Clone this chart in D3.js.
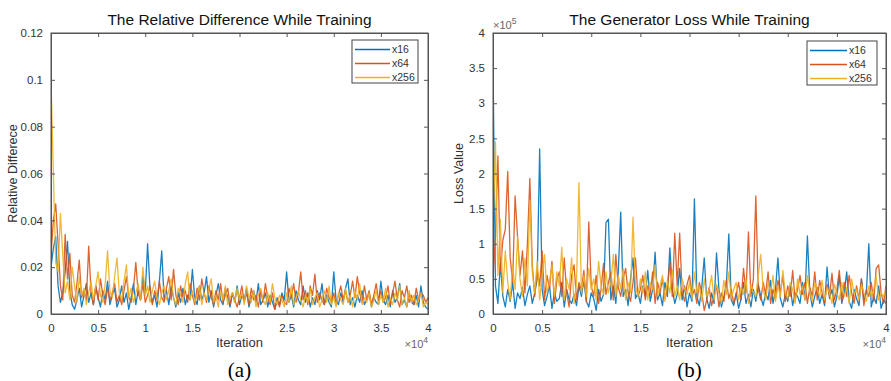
<!DOCTYPE html>
<html><head><meta charset="utf-8">
<script src="https://cdn.jsdelivr.net/npm/d3@7"></script>
<style>
body{margin:0;background:#fff;}
svg{display:block;font-family:"Liberation Sans",Arial,sans-serif;}
</style></head>
<body><svg id="c" width="891" height="381"></svg>
<script>
// ---- data ----
const iterations = d3.range(0, 40001, 250);
const seriesNames = ["x16", "x64", "x256"];
const seriesColors = ["#0072BD", "#D95319", "#EDB120"];
const xTicks = [0, 5000, 10000, 15000, 20000, 25000, 30000, 35000, 40000];
const relTicks = [0, 0.02, 0.04, 0.06, 0.08, 0.1, 0.12];
const lossTicks = [0, 0.5, 1, 1.5, 2, 2.5, 3, 3.5, 4]; // x10^5

const rel_x16 = [
.020,.028,.033,.012,.005,.009,.018,.031,.010,.004,.002,.006,.011,.003,.008,.013,.005,.009,.004,.012,
.007,.003,.010,.006,.014,.004,.008,.011,.003,.006,.012,.005,.009,.002,.007,.013,.004,.010,.006,.016,
.009,.030,.011,.005,.008,.003,.014,.027,.006,.010,.004,.012,.007,.003,.009,.005,.011,.004,.008,.006,
.019,.007,.004,.012,.006,.009,.016,.005,.010,.003,.008,.013,.006,.004,.011,.007,.003,.009,.005,.012,
.004,.008,.006,.011,.003,.007,.010,.005,.013,.004,.006,.009,.003,.008,.005,.002,.007,.004,.009,.006,
.018,.005,.008,.003,.010,.006,.004,.012,.005,.009,.003,.007,.004,.010,.006,.013,.004,.008,.005,.003,
.018,.006,.004,.009,.005,.011,.015,.004,.007,.003,.008,.005,.010,.004,.006,.009,.003,.007,.005,.004,
.014,.006,.004,.008,.003,.010,.005,.007,.013,.004,.006,.003,.009,.005,.004,.008,.003,.012,.005,.003,
.002];
const rel_x64 = [
.025,.040,.047,.030,.012,.006,.034,.015,.026,.008,.005,.013,.023,.007,.010,.006,.029,.009,.004,.012,
.006,.015,.008,.004,.011,.006,.009,.013,.005,.008,.004,.010,.016,.007,.005,.011,.022,.009,.006,.013,
.005,.008,.012,.004,.010,.006,.014,.007,.005,.011,.016,.006,.019,.008,.004,.012,.007,.010,.005,.013,
.008,.004,.011,.006,.015,.009,.005,.012,.007,.004,.010,.006,.013,.005,.008,.011,.004,.009,.006,.003,
.007,.012,.005,.009,.004,.011,.006,.008,.003,.010,.005,.013,.007,.004,.009,.002,.006,.003,.008,.005,
.004,.011,.007,.013,.005,.009,.018,.006,.010,.004,.012,.008,.017,.005,.009,.006,.004,.011,.007,.005,
.009,.004,.008,.012,.006,.010,.005,.008,.014,.007,.016,.009,.005,.012,.006,.010,.004,.008,.013,.006,
.010,.005,.007,.012,.004,.009,.014,.006,.003,.010,.007,.012,.005,.008,.004,.011,.006,.009,.008,.005,
.007];
const rel_x256 = [
.100,.060,.022,.018,.043,.025,.009,.014,.006,.020,.012,.005,.016,.008,.011,.004,.009,.014,.006,.012,
.018,.008,.005,.013,.027,.010,.007,.016,.024,.009,.006,.014,.021,.007,.011,.005,.009,.013,.006,.020,
.008,.012,.005,.010,.014,.007,.004,.009,.012,.006,.010,.015,.007,.004,.011,.008,.005,.013,.018,.006,
.010,.005,.008,.012,.004,.009,.006,.011,.015,.005,.008,.003,.010,.006,.012,.004,.007,.009,.005,.011,
.006,.009,.004,.012,.007,.005,.010,.003,.008,.011,.006,.004,.009,.005,.013,.007,.004,.008,.006,.003,
.009,.005,.012,.004,.007,.010,.006,.003,.008,.005,.011,.004,.007,.009,.003,.006,.010,.005,.012,.004,
.007,.003,.009,.006,.004,.011,.005,.008,.003,.010,.006,.013,.004,.007,.005,.009,.003,.006,.010,.004,
.008,.005,.011,.003,.007,.004,.009,.006,.012,.004,.007,.003,.010,.005,.008,.004,.006,.009,.003,.005,
.004];

// generator loss, in units of 10^5
const loss_x16 = [
3.59,0.40,0.15,0.72,0.25,0.10,0.35,0.18,0.45,0.08,0.30,0.22,0.38,0.12,0.28,0.40,0.15,0.30,0.50,2.35,
0.35,0.12,0.25,0.40,0.08,0.30,0.18,0.22,0.45,0.10,0.35,0.20,0.15,0.28,0.12,0.40,0.25,0.48,0.18,0.10,
0.30,0.22,0.05,0.35,0.18,0.28,1.30,1.35,0.20,0.40,0.15,0.60,1.45,0.25,0.35,0.12,0.50,0.80,0.22,0.30,
0.15,0.40,0.25,0.62,0.18,0.35,0.88,0.20,0.30,0.12,0.45,0.25,0.94,0.35,0.15,0.28,0.65,0.20,0.40,0.10,
0.30,0.18,1.64,0.25,0.12,0.38,0.80,0.22,0.08,0.30,0.15,0.87,0.35,0.10,0.25,0.40,1.14,0.20,0.12,0.30,
0.08,0.22,0.45,0.15,0.28,0.10,0.35,0.18,0.42,0.25,0.12,0.30,0.20,0.48,0.15,0.35,0.80,0.22,0.10,0.28,
0.18,0.40,0.12,0.30,0.25,0.15,0.45,0.20,1.11,0.30,0.10,0.25,0.38,0.15,0.28,0.12,0.67,0.22,0.35,0.10,
0.25,0.55,0.15,0.30,0.60,0.18,0.08,0.35,0.22,0.12,0.50,0.20,0.30,1.00,0.10,0.25,0.15,0.40,0.08,0.20,
0.15];
const loss_x64 = [
0.50,1.10,2.25,0.60,1.05,1.20,2.03,0.80,0.45,1.68,1.10,0.55,0.90,0.30,1.00,1.93,0.70,0.25,0.65,0.40,
0.90,0.20,0.55,0.35,0.75,0.15,0.48,0.60,0.25,0.80,0.30,0.10,0.55,0.70,0.20,0.45,0.35,0.62,0.18,1.31,
0.40,0.25,0.55,0.15,0.35,0.72,0.28,0.45,0.60,0.20,0.85,0.38,0.25,0.50,0.65,0.30,0.18,0.45,0.80,0.25,
0.35,0.55,0.20,0.40,0.28,0.60,0.15,0.45,0.30,0.50,0.22,0.35,0.75,0.25,1.15,0.40,1.15,0.30,0.18,0.42,
0.55,0.25,0.35,0.15,0.45,0.30,0.05,0.20,0.38,0.12,0.25,0.40,0.10,0.30,0.18,0.48,0.22,0.35,0.15,0.28,
0.45,0.20,0.65,0.30,1.17,0.25,0.50,1.68,0.35,0.20,0.45,0.28,0.60,0.15,0.35,0.22,0.48,0.30,0.55,0.18,
0.40,0.25,0.62,0.20,0.35,0.55,0.28,0.45,0.15,0.38,0.25,0.60,0.20,0.48,0.30,0.15,0.42,0.25,0.58,0.20,
0.35,0.62,0.18,0.45,0.25,0.55,0.30,0.15,0.40,0.22,0.50,0.12,0.35,0.25,0.45,0.18,0.65,0.70,0.30,0.15,
0.40];
const loss_x256 = [
1.20,2.45,0.55,1.35,0.30,0.90,0.45,0.20,0.70,0.35,1.10,0.50,0.25,0.80,0.40,1.62,0.60,0.30,0.75,0.20,
0.55,0.85,0.30,0.45,0.70,0.25,0.60,0.40,0.95,0.20,0.50,0.35,0.80,0.15,0.45,1.87,0.30,0.55,0.25,0.65,
0.35,0.50,0.20,0.75,0.40,0.28,0.60,0.30,0.45,0.85,0.25,0.55,0.35,0.65,0.20,0.45,0.30,1.38,0.40,0.25,
0.50,0.30,0.60,0.20,0.45,0.35,0.70,0.25,0.40,0.55,0.18,0.48,0.30,0.62,0.25,0.40,0.20,0.50,0.35,0.28,
0.45,0.22,0.60,0.30,0.40,0.18,0.50,0.25,0.35,0.55,0.20,0.42,0.30,0.15,0.48,0.28,0.60,0.22,0.35,0.45,
0.20,0.38,0.28,0.50,0.15,0.42,0.30,0.25,0.55,0.85,0.35,0.20,0.45,0.30,0.55,0.18,0.40,0.25,0.62,0.30,
0.22,0.45,0.35,0.15,0.50,0.28,0.40,0.20,0.55,0.30,0.18,0.45,0.35,0.25,0.48,0.20,0.38,0.30,0.15,0.42,
0.30,0.20,0.45,0.25,0.38,0.15,0.50,0.28,0.35,0.20,0.42,0.30,0.18,0.40,0.25,0.35,0.55,0.20,0.30,0.25,
0.35];

// ---- drawing ----
const svg = d3.select("#c");
const axisCol = "#555";
const textCol = "#333";

function panel(cfg) {
  const g = svg.append("g");
  const x = d3.scaleLinear().domain([0, 40000]).range([cfg.x0, cfg.x1]);
  const y = d3.scaleLinear().domain(cfg.yDomain).range([cfg.y1, cfg.y0]);

  const clipId = "clip" + cfg.id;
  svg.append("clipPath").attr("id", clipId).append("rect")
    .attr("x", cfg.x0).attr("y", cfg.y0).attr("width", cfg.x1 - cfg.x0).attr("height", cfg.y1 - cfg.y0);

  const line = d3.line().x((d, i) => x(iterations[i])).y(d => y(d));
  cfg.series.forEach((s, k) => {
    g.append("path").datum(s).attr("clip-path", `url(#${clipId})`)
      .attr("fill", "none").attr("stroke", seriesColors[k]).attr("stroke-width", 1.3)
      .attr("stroke-opacity", 0.9).attr("stroke-linejoin", "round").attr("d", line);
  });

  const tl = 4;
  const fmtX = d => d3.format("~g")(d / 10000);
  const bx = g.append("g").attr("transform", `translate(0,${cfg.y1})`)
    .call(d3.axisBottom(x).tickValues(xTicks).tickSize(-tl).tickPadding(10).tickFormat(fmtX));
  const tx = g.append("g").attr("transform", `translate(0,${cfg.y0})`)
    .call(d3.axisTop(x).tickValues(xTicks).tickSize(-tl).tickFormat(""));
  const ly = g.append("g").attr("transform", `translate(${cfg.x0},0)`)
    .call(d3.axisLeft(y).tickValues(cfg.yTicks).tickSize(-tl).tickPadding(8).tickFormat(d3.format("~g")));
  const ry = g.append("g").attr("transform", `translate(${cfg.x1},0)`)
    .call(d3.axisRight(y).tickValues(cfg.yTicks).tickSize(-tl).tickFormat(""));
  [bx, tx, ly, ry].forEach(a => {
    a.select(".domain").attr("stroke", axisCol).attr("stroke-width", 1);
    a.selectAll(".tick line").attr("stroke", axisCol);
    a.selectAll("text").attr("fill", textCol).attr("font-size", 11.5)
      .attr("font-family", "'Liberation Sans',Arial,sans-serif");
  });
  g.append("rect").attr("x", cfg.x0).attr("y", cfg.y0).attr("width", cfg.x1 - cfg.x0)
    .attr("height", cfg.y1 - cfg.y0).attr("fill", "none").attr("stroke", axisCol);

  g.append("text").attr("x", (cfg.x0 + cfg.x1) / 2).attr("y", 25).attr("text-anchor", "middle")
    .attr("font-size", 15.5).attr("fill", "#111").text(cfg.title);
  g.append("text").attr("x", (cfg.x0 + cfg.x1) / 2).attr("y", 347).attr("text-anchor", "middle")
    .attr("font-size", 13).attr("fill", textCol).text("Iteration");
  g.append("text").attr("transform", `translate(${cfg.ylabX},${(cfg.y0 + cfg.y1) / 2}) rotate(-90)`)
    .attr("text-anchor", "middle").attr("font-size", 12.5).attr("fill", textCol).text(cfg.ylabel);
  const ex = g.append("text").attr("x", cfg.x1).attr("y", 348).attr("text-anchor", "end")
    .attr("font-size", 11).attr("fill", "#666");
  ex.append("tspan").text("\u00d710");
  ex.append("tspan").attr("dy", -5).attr("font-size", 8.5).text("4");
  if (cfg.yExp) {
    const ey = g.append("text").attr("x", cfg.x0).attr("y", 29)
      .attr("font-size", 11).attr("fill", "#666");
    ey.append("tspan").text("\u00d710");
    ey.append("tspan").attr("dy", -5).attr("font-size", 8.5).text(cfg.yExp);
  }
  g.append("text").attr("x", (cfg.x0 + cfg.x1) / 2).attr("y", 377).attr("text-anchor", "middle")
    .attr("font-family", "'Liberation Serif','Times New Roman',serif").attr("font-size", 21)
    .attr("fill", "#000").text(cfg.letter);

  const L = cfg.legend;
  g.append("rect").attr("x", L.x).attr("y", L.y).attr("width", L.w).attr("height", L.h)
    .attr("fill", "#fff").attr("stroke", "#444").attr("stroke-width", 1);
  seriesNames.forEach((n, k) => {
    const yy = L.y + 9.5 + k * 14;
    g.append("line").attr("x1", L.x + 3).attr("x2", L.x + L.lineW).attr("y1", yy).attr("y2", yy)
      .attr("stroke", seriesColors[k]).attr("stroke-width", 1.3);
    g.append("text").attr("x", L.x + L.lineW + 2).attr("y", yy + 3.5).attr("font-size", 10.5)
      .attr("fill", textCol).text(n);
  });
}

panel({
  id: "a", x0: 51, x1: 428, y0: 33, y1: 314, yDomain: [0, 0.12], yTicks: relTicks,
  series: [rel_x16, rel_x64, rel_x256], title: "The Relative Difference While Training",
  ylabel: "Relative Differece", ylabX: 17, letter: "(a)",
  legend: { x: 352, y: 40, w: 66, h: 43, lineW: 38 }
});
panel({
  id: "b", x0: 493, x1: 886, y0: 33, y1: 314, yDomain: [0, 4], yTicks: lossTicks,
  series: [loss_x16, loss_x64, loss_x256], title: "The Generator Loss While Training",
  ylabel: "Loss Value", ylabX: 463, letter: "(b)", yExp: "5",
  legend: { x: 807, y: 41, w: 70, h: 44, lineW: 40 }
});
</script></body></html>
